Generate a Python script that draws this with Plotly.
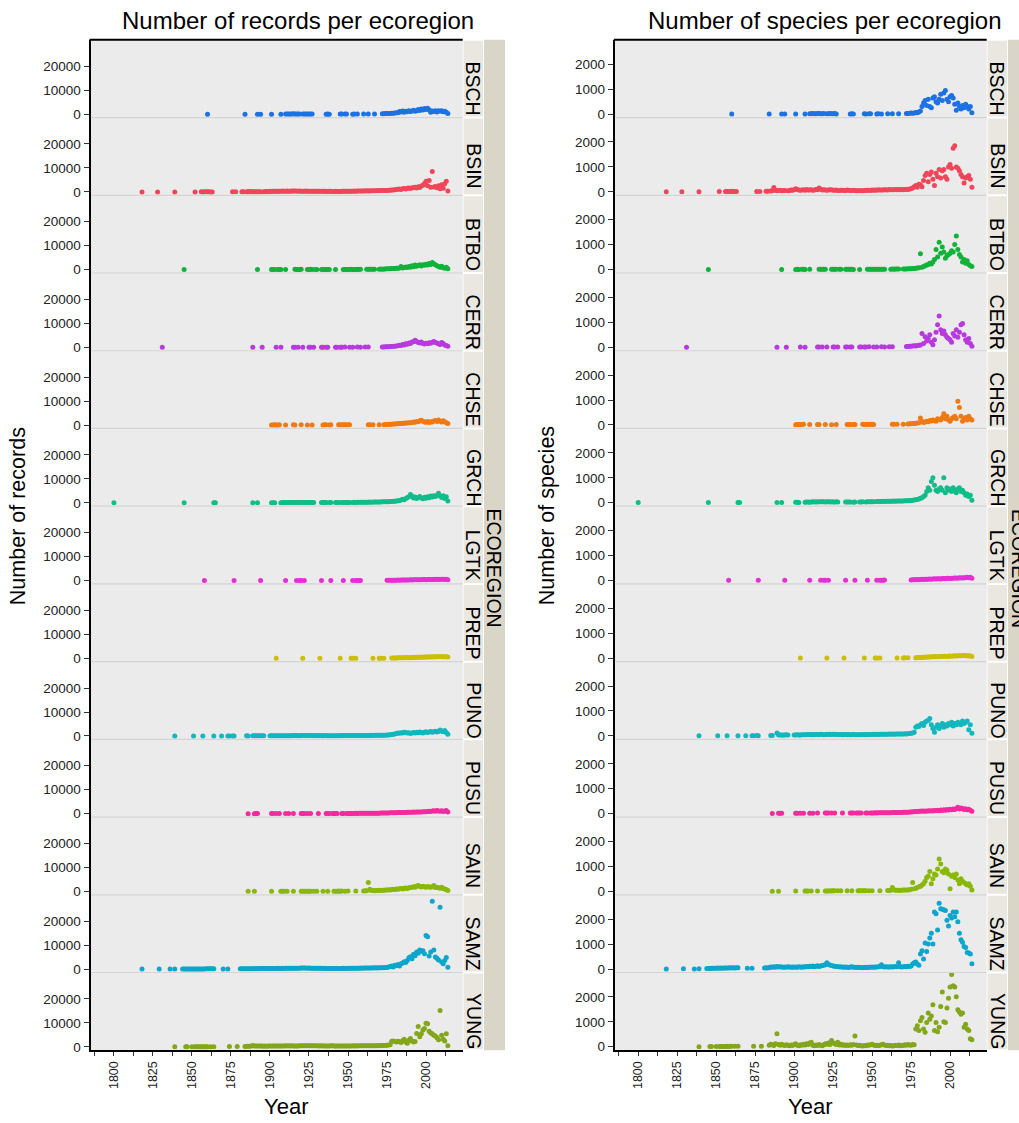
import plotly.graph_objects as go

# ---------------- data ----------------
REGIONS = ["BSCH", "BSIN", "BTBO", "CERR", "CHSE", "GRCH", "LGTK",
           "PREP", "PUNO", "PUSU", "SAIN", "SAMZ", "YUNG"]
COLORS = ["#1C72E4", "#F0465A", "#12B23A", "#B83ADE", "#EE7A14", "#10BD8A",
          "#E52FD3", "#CCBE00", "#10B8BE", "#F52A9E", "#89B808", "#0CA6CC", "#83A61A"]

X_TICKS = [1800, 1825, 1850, 1875, 1900, 1925, 1950, 1975, 2000]
REC_TICKS = [0, 10000, 20000]
SPE_TICKS = [0, 1000, 2000]

bsch_years = [1860, 1884, 1892, 1894, 1901, 1907,
              1910, 1911, 1912, 1913, 1914, 1915, 1916, 1917, 1918, 1919,
              1921, 1922, 1923, 1924, 1925, 1926, 1927,
              1936, 1937, 1938, 1945, 1946, 1948, 1949, 1953, 1954, 1956, 1960, 1963, 1967,
              1972, 1973, 1974, 1975, 1976, 1977, 1978, 1979, 1980, 1981,
              1982, 1983, 1984, 1985, 1986, 1987, 1988, 1989, 1990, 1991,
              1992, 1993, 1994, 1995, 1996, 1997, 1998, 1999, 2000, 2001,
              2002, 2003, 2004, 2005, 2006, 2007, 2008, 2009, 2010, 2011,
              2012, 2013, 2014]
bsch_records = [20, 15, 30, 25, 40, 35,
                60, 80, 120, 90, 70, 150, 110, 60, 90, 130,
                80, 100, 140, 70, 60, 90, 50,
                40, 70, 30, 60, 45, 80, 55, 40, 65, 50, 70, 90, 60,
                150, 200, 250, 300, 280, 350, 420, 380, 500, 600,
                650, 1100, 900, 1300, 800, 1200, 1000, 1500, 1100, 1300,
                1700, 1200, 1500, 2000, 1600, 2200, 1800, 2400, 2000, 2500,
                1900, 800, 1300, 1100, 1500, 900, 1400, 1200, 1500, 1000,
                1200, 800, 300]
bsch_species = [3, 2, 4, 5, 8, 6,
                12, 15, 20, 18, 14, 25, 22, 10, 16, 28,
                12, 18, 24, 14, 10, 20, 8,
                6, 12, 5, 10, 8, 14, 9, 7, 12, 8, 12, 15, 10,
                20, 25, 30, 40, 35, 45, 60, 50, 80, 120,
                300, 450, 550, 350, 600, 300, 250, 650, 700, 500,
                450, 600, 800, 550, 850, 950, 600, 500, 700, 750,
                650, 400, 150, 450, 300, 200, 350, 250, 400, 300,
                200, 300, 50]

bsin_years = [1818, 1828, 1839, 1852, 1856, 1857, 1858, 1859, 1860, 1861, 1862, 1863,
              1876, 1878, 1882, 1883, 1885, 1886, 1887, 1888, 1889, 1890, 1891, 1892, 1893, 1894,
              1896, 1897, 1898, 1899, 1900, 1901, 1902, 1903, 1904, 1905,
              1906, 1907, 1908, 1909, 1910, 1911, 1912, 1913, 1914, 1915,
              1916, 1917, 1918, 1919, 1920, 1921, 1922, 1923, 1924, 1925,
              1926, 1927, 1928, 1929, 1930, 1931, 1932, 1933, 1934, 1935,
              1936, 1937, 1938, 1939, 1940, 1941, 1942, 1943, 1944, 1945,
              1946, 1947, 1948, 1949, 1950, 1951, 1952, 1953, 1954, 1955,
              1956, 1957, 1958, 1959, 1960, 1961, 1962, 1963, 1964, 1965,
              1966, 1967, 1968, 1969, 1970, 1971, 1972, 1973, 1974, 1975,
              1976, 1977, 1978, 1979, 1980, 1981, 1982, 1983, 1984, 1985,
              1986, 1987, 1988, 1989, 1990, 1991, 1992, 1993, 1994, 1995,
              1996, 1997, 1998, 1999, 2000, 2001, 2002, 2003, 2004, 2005,
              2006, 2007, 2008, 2009, 2010, 2011, 2012, 2013, 2014]
bsin_records = [10, 15, 12, 20, 30, 25, 40, 35, 50, 30, 20, 25,
                40, 35, 60, 80, 70, 90, 150, 110, 80, 100, 120, 90, 130, 100,
                120, 150, 200, 180, 250, 220, 300, 260, 240, 280,
                310, 270, 350, 300, 320, 380, 290, 340, 400, 360,
                420, 380, 300, 350, 330, 280, 310, 360, 340, 300,
                290, 320, 270, 250, 300, 280, 260, 240, 310, 270,
                250, 230, 280, 260, 220, 200, 240, 210, 190, 230,
                250, 280, 300, 270, 320, 290, 340, 310, 360, 330,
                380, 350, 400, 420, 390, 450, 430, 470, 440, 500,
                480, 520, 500, 550, 530, 580, 560, 600, 620,
                650, 700, 750, 800, 850, 900, 1000, 1100, 1200, 1050,
                1300, 1400, 1250, 1500, 1600, 1450, 1800, 1700, 2000, 1600,
                2200, 1900, 2500, 2800, 3500, 4500, 2600, 4800, 2000, 8500,
                2100, 2300, 1800, 2600, 1300, 3000, 1500, 3400, 4500, 400]
bsin_species = [5, 6, 5, 8, 10, 12, 15, 14, 18, 12, 10, 11,
                15, 14, 20, 25, 30, 40, 170, 60, 40, 50, 60, 45, 55, 50,
                40, 50, 70, 60, 80, 120, 90, 70, 60, 75,
                80, 65, 90, 70, 75, 85, 60, 70, 95, 80,
                150, 100, 70, 80, 75, 60, 70, 85, 80, 65,
                60, 70, 55, 50, 65, 60, 55, 50, 70, 60,
                55, 50, 60, 55, 45, 40, 50, 45, 40, 50,
                55, 60, 65, 55, 70, 60, 75, 65, 80, 70,
                75, 70, 80, 85, 75, 90, 80, 85, 80, 95,
                85, 90, 80, 95, 85, 90, 100, 95, 110,
                120, 150, 200, 250, 180, 300, 280, 200, 450, 650,
                750, 400, 700, 800, 500, 250, 750, 600, 900, 550,
                850, 900, 600, 500, 1000, 1100, 950, 1750, 1850, 1000,
                950, 850, 700, 600, 350, 550, 600, 650, 500, 180]

btbo_years = [1845, 1892, 1901, 1902, 1903, 1905, 1906, 1907, 1910,
              1916, 1917, 1918, 1919, 1920, 1924, 1925, 1926, 1927, 1929, 1930,
              1933, 1934, 1935, 1936, 1937, 1938, 1942,
              1947, 1948, 1949, 1950, 1951, 1952, 1953, 1954, 1955, 1956, 1957, 1958,
              1962, 1963, 1964, 1965, 1966, 1967,
              1970, 1971, 1972, 1973, 1974, 1975, 1976, 1977, 1978, 1979,
              1980, 1981, 1982, 1983, 1984, 1985, 1986, 1987, 1988, 1989,
              1990, 1991, 1992, 1993, 1994, 1995, 1996, 1997, 1998, 1999,
              2000, 2001, 2002, 2003, 2004, 2005, 2006, 2007, 2008, 2009,
              2010, 2011, 2012, 2013, 2014]
btbo_records = [30, 40, 60, 80, 50, 70, 90, 60, 100, 150,
                120, 90, 110, 130, 80, 100, 140, 120, 90, 110,
                70, 90, 120, 100, 80, 60, 50, 70, 90, 110,
                80, 100, 130, 90, 120, 110, 140, 100, 130, 150,
                180, 160, 200, 170, 190,
                200, 250, 220, 300, 280, 350, 400, 380, 450, 500,
                480, 600, 550, 700, 1300, 650, 900, 1100, 850, 1300,
                1000, 1600, 1200, 1900, 1400, 1700, 2100, 1500, 2000, 1800,
                2300, 1900, 2600, 2200, 3000, 2500, 2000, 1600, 1300, 1000,
                1400, 800, 600, 1000, 400]
btbo_species = [3, 4, 6, 8, 5, 7, 9, 6, 10, 15,
                12, 9, 11, 13, 8, 10, 14, 12, 9, 11,
                7, 9, 12, 10, 8, 6, 5, 7, 9, 11,
                8, 10, 13, 9, 12, 11, 14, 10, 13, 15,
                18, 16, 20, 17, 19,
                20, 25, 22, 30, 28, 35, 40, 45, 50, 60,
                70, 630, 90, 120, 150, 180, 200, 250, 220, 300,
                400, 800, 500, 1100, 650, 900, 700, 450, 550, 600,
                650, 750, 700, 1000, 1350, 800, 600, 500, 300, 400,
                250, 350, 200, 150, 120]

cerr_years = [1831, 1889, 1895, 1904, 1907, 1915, 1916, 1918, 1921, 1925,
              1926, 1928, 1933, 1934, 1936, 1937, 1942, 1943, 1945, 1946,
              1948, 1951, 1953, 1956, 1958, 1961, 1963,
              1972, 1973, 1974, 1975, 1976, 1977, 1978, 1979, 1980, 1981,
              1982, 1983, 1984, 1985, 1986, 1987, 1988, 1989, 1990, 1991,
              1992, 1993, 1994, 1995, 1996, 1997, 1998, 1999, 2000, 2001,
              2002, 2003, 2004, 2005, 2006, 2007, 2008, 2009, 2010, 2011,
              2012, 2013, 2014]
cerr_records = [20, 30, 25, 40, 35, 60, 50, 45, 70, 55,
                65, 80, 60, 75, 90, 70, 85, 100, 80, 95,
                110, 90, 100, 120, 100, 130, 110,
                150, 200, 250, 220, 300, 350, 400, 450, 500, 600,
                700, 900, 800, 1200, 1000, 1500, 1300, 1800, 1600, 2200,
                2400, 3000, 2500, 2000, 1800, 2200, 1600, 1400, 1700, 1500,
                1900, 1700, 2100, 2500, 2000, 1800, 1500, 1200, 2000, 1600,
                1000, 800, 500]
cerr_species = [3, 5, 4, 6, 5, 8, 7, 6, 10, 8,
                9, 12, 9, 11, 14, 10, 12, 15, 12, 14,
                16, 13, 15, 18, 15, 20, 17,
                30, 35, 40, 45, 50, 60, 55, 70, 80, 90,
                550, 150, 420, 250, 350, 500, 200, 100, 300, 600,
                900, 1250, 700, 550, 650, 500, 400, 350, 300, 200,
                550, 450, 700, 400, 600, 900, 950, 500, 300, 200,
                350, 150, 40]

chse_years = [1901, 1902, 1903, 1904, 1905, 1906, 1910, 1915, 1916, 1920,
              1924, 1927, 1934, 1935, 1936, 1938, 1939, 1944, 1945, 1946,
              1947, 1948, 1949, 1950, 1951, 1963, 1964, 1966, 1970,
              1973, 1974, 1975, 1976, 1977, 1978, 1979, 1980, 1981, 1982,
              1983, 1984, 1985, 1986, 1987, 1988, 1989, 1990, 1991, 1992,
              1993, 1994, 1995, 1996, 1997, 1998, 1999, 2000, 2001, 2002,
              2003, 2004, 2005, 2006, 2007, 2008, 2009, 2010, 2011, 2012,
              2013, 2014]
chse_records = [60, 80, 100, 70, 90, 120, 80, 100, 90, 110,
                70, 90, 80, 100, 120, 90, 110, 130, 100, 120,
                140, 110, 130, 150, 120, 140, 160, 130, 150,
                200, 250, 300, 280, 350, 400, 450, 500, 550, 600,
                700, 650, 800, 750, 900, 850, 1000, 950, 1100, 1300,
                1200, 1500, 1400, 1800, 2000, 1600, 1300, 1200, 1500, 1100,
                1400, 1300, 1700, 1900, 1500, 2100, 1600, 1300, 1800, 1400,
                1000, 700]
chse_species = [10, 15, 20, 12, 18, 25, 15, 20, 18, 22,
                14, 18, 16, 20, 24, 18, 22, 26, 20, 24,
                28, 22, 26, 30, 24, 28, 32, 26, 30,
                40, 45, 50, 60, 55, 70, 80, 90, 280, 150,
                100, 120, 150, 130, 180, 160, 200, 170, 150, 250,
                220, 200, 300, 450, 250, 350, 200, 150, 250, 300,
                350, 250, 950, 700, 350, 150, 250, 300, 200, 350,
                250, 200]

grch_years = [1800, 1845, 1864, 1865, 1889, 1892, 1901, 1902, 1903,
              1907, 1908, 1909, 1910, 1911, 1912, 1913, 1914, 1915, 1916, 1917,
              1918, 1919, 1920, 1921, 1922, 1923, 1924, 1925, 1926, 1927, 1928,
              1933, 1934, 1935, 1936, 1938, 1939, 1942, 1943, 1944, 1946,
              1947, 1948, 1949, 1950, 1951,
              1953, 1954, 1955, 1956, 1957, 1958, 1959, 1960, 1961, 1962,
              1963, 1964, 1965, 1966, 1967, 1968, 1969, 1970, 1971, 1972,
              1973, 1974, 1975, 1976, 1977, 1978, 1979, 1980, 1981, 1982,
              1983, 1984, 1985, 1986, 1987, 1988, 1989, 1990, 1991, 1992,
              1993, 1994, 1995, 1996, 1997, 1998, 1999, 2000, 2001, 2002,
              2003, 2004, 2005, 2006, 2007, 2008, 2009, 2010, 2011, 2012,
              2013, 2014]
grch_records = [20, 30, 40, 35, 50, 45, 60, 70, 55,
                80, 100, 120, 90, 110, 140, 130, 150, 120, 160, 140,
                170, 150, 130, 160, 140, 120, 150, 130, 110, 140, 120,
                100, 120, 110, 130, 90, 110, 100, 120, 140, 130,
                150, 140, 160, 150, 170,
                180, 200, 190, 210, 230, 220, 250, 240, 260, 280,
                270, 300, 290, 320, 310, 340, 330, 360, 380, 400,
                420, 450,
                480, 500, 550, 600, 650, 700, 800, 900, 1000, 1200,
                1500, 1300, 1800, 2200, 2500, 3500, 2800, 2000, 2400, 1800,
                2200, 2600, 2000, 1700, 2300, 1900, 2500, 2100, 2800, 2400,
                3000, 2600, 3200, 4000, 2800, 2200, 3000, 1800, 2500, 800]
grch_species = [5, 6, 10, 8, 12, 10, 14, 16, 12,
                20, 25, 30, 22, 28, 35, 32, 38, 30, 40, 35,
                42, 38, 32, 40, 35, 30, 38, 32, 28, 35, 30,
                25, 30, 28, 32, 22, 28, 25, 30, 35, 32,
                38, 35, 40, 38, 42,
                45, 50, 48, 52, 55, 50, 58, 55, 60, 62,
                58, 65, 60, 68, 65, 70, 68, 72, 75, 80,
                78, 85,
                90, 100, 110, 120, 130, 150, 180, 200, 250, 300,
                450, 600, 500, 850, 1000, 700, 500, 450, 550, 600,
                500, 1000, 400, 600, 500, 550, 450, 600, 500, 400,
                550, 600, 450, 500, 400, 300, 350, 250, 300, 100]

lgtk_years = [1858, 1877, 1894, 1910, 1917, 1919, 1920, 1922, 1933, 1939,
              1947, 1953, 1955, 1956, 1957, 1958,
              1975, 1976, 1977, 1978, 1979, 1980, 1981, 1982, 1983, 1984,
              1985, 1986, 1987, 1988, 1989, 1990, 1991, 1992, 1993, 1994,
              1995, 1996, 1997, 1998, 1999, 2000, 2001, 2002, 2003, 2004,
              2005, 2006, 2007, 2008, 2009, 2010, 2011, 2012, 2013, 2014]
lgtk_records = [20, 15, 25, 30, 20, 35, 30, 25, 40, 30,
                35, 45, 40, 50, 45, 55,
                80, 110, 95, 130, 150, 120, 170, 190, 160, 210,
                240, 200, 260, 230, 280, 300, 260, 320, 340, 290,
                360, 380, 330, 400, 420, 370, 440, 400, 460, 480,
                420, 500, 470, 520, 450, 540, 500, 480, 520, 300]
lgtk_species = [5, 4, 6, 8, 5, 9, 7, 6, 10, 8,
                9, 11, 10, 12, 11, 13,
                20, 28, 24, 32, 36, 30, 40, 44, 38, 48,
                52, 46, 56, 50, 60, 64, 58, 68, 72, 62,
                76, 80, 70, 84, 88, 78, 92, 86, 96, 100,
                90, 105, 98, 110, 95, 120, 130, 110, 125, 90]

prep_years = [1904, 1921, 1932, 1945, 1952, 1953, 1955, 1966, 1970, 1971, 1973,
              1978, 1979, 1980, 1981, 1982, 1983, 1984, 1985, 1986, 1987,
              1988, 1989, 1990, 1991, 1992, 1993, 1994, 1995, 1996, 1997,
              1998, 1999, 2000, 2001, 2002, 2003, 2004, 2005, 2006, 2007,
              2008, 2009, 2010, 2011, 2012, 2013, 2014]
prep_records = [15, 20, 25, 30, 35, 30, 40, 45, 50, 55, 60,
                100, 130, 120, 160, 190, 170, 220, 250, 230, 280,
                300, 270, 330, 360, 340, 390, 420, 380, 450, 480,
                440, 510, 540, 500, 570, 600, 560, 630, 650, 610,
                680, 700, 660, 640, 590, 620, 480]
prep_species = [3, 4, 5, 6, 7, 6, 8, 9, 10, 11, 12,
                20, 25, 22, 30, 35, 32, 40, 45, 42, 50,
                55, 52, 58, 62, 60, 65, 70, 66, 72, 76,
                70, 80, 85, 78, 88, 92, 86, 95, 100, 94,
                105, 110, 100, 95, 88, 92, 70]

puno_years = [1839, 1851, 1857, 1864, 1869, 1873, 1874, 1876, 1877, 1885,
              1886, 1889, 1890, 1891, 1892, 1893, 1894, 1895, 1896,
              1900, 1901, 1902, 1903, 1904, 1905, 1906, 1907, 1908, 1909,
              1910, 1911, 1912, 1913, 1914, 1915, 1916, 1917, 1918, 1919,
              1920, 1921, 1922, 1923, 1924, 1925, 1926, 1927, 1928, 1929,
              1930, 1931, 1932, 1933, 1934, 1935, 1936, 1937, 1938, 1939,
              1940, 1941, 1942, 1943, 1944, 1945, 1946, 1947, 1948, 1949,
              1950, 1951, 1952, 1953, 1954, 1955, 1956, 1957, 1958, 1959,
              1960, 1961, 1962, 1963, 1964, 1965, 1966, 1967, 1968, 1969,
              1970, 1971, 1972, 1973, 1974,
              1975, 1976, 1977, 1978, 1979, 1980, 1981, 1982, 1983, 1984,
              1985, 1986, 1987, 1988, 1989, 1990, 1991, 1992, 1993, 1994,
              1995, 1996, 1997, 1998, 1999, 2000, 2001, 2002, 2003, 2004,
              2005, 2006, 2007, 2008, 2009, 2010, 2011, 2012, 2013, 2014]
puno_records = [20, 25, 30, 35, 30, 40, 35, 45, 40, 50,
                45, 80, 60, 70, 55, 65, 60, 70, 65,
                80, 90, 100, 85, 95, 110, 105, 120, 115, 130,
                125, 140, 135, 150, 145, 160, 155, 170, 150, 140,
                160, 175, 165, 180, 170, 185, 175, 160, 150, 165,
                155, 145, 160, 150, 140, 155, 145, 135, 150, 140,
                130, 145, 135, 150, 140, 160, 150, 170, 160, 180,
                175, 190, 185, 200, 195, 210, 205, 220, 215, 230,
                225, 240, 235, 250, 245, 260, 255, 270, 265, 280,
                290, 300, 320, 340, 360,
                400, 450, 500, 600, 700, 800, 1000, 1200, 1100, 1400,
                1300, 1600, 1500, 1200, 1400, 1000, 1300, 1500, 1200, 1600,
                1400, 1700, 1500, 1300, 1600, 1800, 1500, 1700, 1900, 1600,
                1800, 2000, 1700, 1900, 2500, 2100, 1800, 2300, 1500, 700]
puno_species = [5, 6, 7, 8, 7, 9, 8, 10, 9, 12,
                10, 120, 30, 40, 25, 35, 30, 40, 35,
                30, 35, 40, 32, 38, 45, 42, 48, 44, 50,
                46, 52, 48, 55, 50, 58, 54, 60, 52, 48,
                55, 60, 56, 62, 58, 64, 60, 55, 50, 56,
                52, 48, 54, 50, 46, 52, 48, 44, 50, 46,
                42, 48, 44, 50, 46, 52, 48, 55, 50, 58,
                55, 60, 56, 62, 58, 64, 60, 66, 62, 68,
                64, 70, 66, 72, 68, 74, 70, 76, 72, 78,
                75, 80, 78, 85, 90,
                100, 120, 150, 350, 400, 380, 450, 500, 420, 550,
                600, 620, 700, 450, 300, 150, 350, 450, 300, 400,
                500, 350, 450, 400, 500, 450, 550, 400, 500, 450,
                550, 500, 450, 600, 500, 550, 600, 250, 450, 100]

pusu_years = [1886, 1890, 1891, 1892, 1901, 1902, 1904, 1906, 1910, 1912,
              1915, 1920, 1921, 1922, 1924, 1926, 1931, 1936, 1937, 1938,
              1940, 1941, 1942, 1943, 1946, 1947, 1949, 1950, 1951, 1952,
              1953,
              1954, 1955, 1956, 1957, 1958, 1959, 1960, 1961, 1962, 1963,
              1964, 1965, 1966, 1967, 1968, 1969, 1970, 1971, 1972, 1973,
              1974,
              1975, 1976, 1977, 1978, 1979, 1980, 1981, 1982, 1983, 1984,
              1985, 1986, 1987, 1988, 1989, 1990, 1991, 1992, 1993, 1994,
              1995, 1996, 1997, 1998, 1999, 2000, 2001, 2002, 2003, 2004,
              2005, 2006, 2007, 2008, 2009, 2010, 2011, 2012, 2013, 2014]
pusu_records = [30, 40, 50, 45, 60, 55, 70, 65, 80, 75,
                90, 85, 100, 95, 110, 100, 90, 105, 95, 110,
                100, 115, 105, 120, 110, 125, 115, 130, 120, 135,
                125,
                140, 150, 145, 160, 155, 170, 165, 180, 175, 190,
                185, 200, 195, 210, 220, 230, 240, 250, 260, 280,
                300,
                320, 340, 360, 380, 400, 420, 440, 460, 500, 480,
                520, 560, 540, 600, 580, 640, 620, 680, 660, 720,
                700, 760, 740, 800, 780, 850, 900, 1000, 950, 1100,
                1200, 1050, 1300, 1150, 1000, 1200, 900, 1100, 1300, 700]
pusu_species = [8, 10, 12, 11, 14, 13, 16, 15, 18, 17,
                20, 19, 22, 21, 24, 22, 20, 23, 21, 24,
                22, 25, 23, 26, 24, 27, 25, 28, 26, 29,
                27,
                30, 32, 31, 34, 33, 36, 35, 38, 37, 40,
                39, 42, 41, 44, 46, 48, 50, 52, 54, 56,
                60,
                65, 70, 75, 80, 85, 90, 95, 100, 90, 105,
                95, 110, 100, 115, 105, 120, 110, 130, 115, 140,
                125, 150, 130, 160, 140, 170, 150, 180, 160, 200,
                250, 180, 220, 200, 160, 190, 150, 170, 130, 90]

sain_years = [1886, 1890, 1901, 1907, 1908, 1909, 1911, 1915, 1920, 1921,
              1922, 1923, 1924, 1925, 1926, 1928, 1930, 1934, 1937, 1941,
              1942, 1943, 1944, 1945, 1946, 1948, 1950, 1955,
              1960, 1961, 1962, 1963, 1964, 1965, 1966, 1967, 1968, 1969,
              1970, 1971, 1972, 1973, 1974,
              1975, 1976, 1977, 1978, 1979, 1980, 1981, 1982, 1983, 1984,
              1985, 1986, 1987, 1988, 1989, 1990, 1991, 1992, 1993, 1994,
              1995, 1996, 1997, 1998, 1999, 2000, 2001, 2002, 2003, 2004,
              2005, 2006, 2007, 2008, 2009, 2010, 2011, 2012, 2013, 2014]
sain_records = [40, 50, 60, 70, 65, 80, 75, 90, 85, 100,
                95, 110, 105, 120, 115, 130, 120, 110, 125, 115,
                130, 120, 135, 125, 140, 130, 145, 150,
                200, 250, 300, 3700, 900, 400, 350, 300, 400, 350,
                450, 400, 500, 450, 550,
                600, 700, 650, 800, 900, 850, 1000, 950, 1100, 1200,
                1050, 1300, 1400, 1250, 1500, 1600, 1800, 2000, 1700, 2300,
                2500, 2100, 1900, 2200, 2000, 1800, 2100, 1900, 1700, 2000,
                2500, 1600, 1800, 1500, 1300, 1700, 1200, 1000, 800, 400]
sain_species = [5, 6, 8, 10, 9, 12, 11, 14, 13, 16,
                15, 18, 17, 20, 19, 22, 20, 18, 21, 19,
                22, 20, 23, 21, 24, 22, 25, 26,
                30, 35, 40, 150, 60, 45, 40, 38, 45, 42,
                50, 48, 55, 52, 60,
                80, 350, 100, 120, 150, 180, 200, 250, 300, 400,
                550, 600, 800, 300, 500, 700, 650, 900, 1300, 1100,
                800, 750, 900, 850, 700, 100, 600, 650, 550, 700,
                450, 300, 500, 400, 350, 300, 250, 300, 200, 50]

samz_years = [1818, 1829, 1836, 1839,
              1844, 1845, 1846, 1847, 1848, 1849, 1850, 1851, 1852, 1853,
              1854, 1855, 1856, 1857, 1858, 1859, 1860, 1861, 1862, 1863, 1864,
              1870, 1873,
              1881, 1882, 1883, 1884, 1885, 1886, 1887, 1888, 1889, 1890,
              1891, 1892, 1893, 1894, 1895, 1896, 1897, 1898, 1899, 1900,
              1901, 1902, 1903, 1904, 1905, 1906, 1907, 1908, 1909, 1910,
              1911, 1912, 1913, 1914, 1915, 1916, 1917, 1918, 1919, 1920,
              1921, 1922, 1923, 1924, 1925, 1926, 1927, 1928, 1929, 1930,
              1931, 1932, 1933, 1934, 1935, 1936, 1937, 1938, 1939, 1940,
              1941, 1942, 1943, 1944, 1945, 1946, 1947, 1948, 1949, 1950,
              1951, 1952, 1953, 1954, 1955, 1956, 1957, 1958, 1959, 1960,
              1961, 1962, 1963, 1964, 1965, 1966, 1967, 1968, 1969, 1970,
              1971, 1972, 1973, 1974,
              1975, 1976, 1977, 1978, 1979, 1980, 1981, 1982, 1983, 1984,
              1985, 1986, 1987, 1988, 1989, 1990, 1991, 1992, 1993, 1994,
              1995, 1996, 1997, 1998, 1999, 2000, 2001, 2002, 2003, 2004,
              2005, 2006, 2007, 2008, 2009, 2010, 2011, 2012, 2013, 2014]
samz_records = [20, 30, 25, 40,
                50, 60, 55, 70, 65, 80, 75, 90, 85, 100,
                95, 110, 105, 120, 115, 130, 125, 140, 135, 150, 145,
                100, 120,
                150, 175, 160, 190, 170, 210, 185, 200, 230, 210,
                240, 220, 260, 235, 250, 280, 245, 270, 300, 260,
                290, 270, 310, 285, 330, 300, 320, 350, 310, 340,
                360, 330, 370, 400, 350, 380, 420, 390, 410, 440,
                480, 520, 460, 430, 450, 410, 390, 420, 380, 360,
                340, 370, 330, 310, 350, 300, 280, 320, 290, 260,
                280, 250, 300, 270, 310, 290, 330, 300, 350, 320,
                360, 330, 380, 350, 400, 420, 380, 450, 410, 470,
                440, 500, 460, 520, 480, 550, 510, 570, 530, 600,
                560, 620, 590, 650,
                700, 900, 1100, 1300, 900, 1600, 1400, 1900, 1300, 2300,
                2600, 3100, 2800, 3600, 4800, 5200, 4300, 6200, 5600, 7200,
                6600, 8000, 7500, 7700, 6400, 14000, 13500, 5500, 7200, 28300,
                8000, 5100, 4600, 3800, 25800, 3000, 2300, 3600, 4900, 800]
samz_species = [5, 8, 6, 10,
                20, 25, 22, 30, 28, 35, 32, 38, 34, 40,
                36, 42, 38, 45, 40, 48, 44, 50, 46, 52, 48,
                30, 35,
                40, 50, 45, 60, 80, 70, 90, 75, 100, 85,
                95, 80, 70, 85, 75, 90, 80, 70, 85, 75,
                80, 70, 90, 85, 75, 95, 80, 100, 90, 110,
                100, 120, 95, 110, 130, 100, 120, 140, 150, 170,
                250, 180, 160, 140, 120, 110, 100, 90, 95, 85,
                80, 75, 85, 70, 65, 80, 90, 75, 70, 65,
                70, 60, 65, 55, 60, 70, 65, 75, 70, 80,
                75, 85, 80, 90, 100, 170, 95, 85, 90, 80,
                85, 90, 80, 95, 100, 90, 250, 95, 85, 90,
                100, 95, 110, 105,
                120, 200, 250, 280, 200, 150, 600, 730, 400, 1050,
                700, 1000, 1250, 1440, 1000, 2290, 2220, 1570, 2640, 2420,
                2400, 2380, 2350, 1960, 1730, 2150, 2050, 2290, 2100, 2290,
                1900, 1440, 1180, 1080, 900, 860, 660, 640, 600, 210]

yung_years = [1839, 1846, 1847, 1850, 1852, 1853, 1854, 1855, 1856, 1857,
              1858, 1859, 1860, 1862, 1864, 1874, 1879,
              1884, 1885, 1886, 1887, 1888, 1889, 1890, 1891, 1892, 1893,
              1894, 1895, 1896, 1897, 1898, 1899, 1900, 1901, 1902, 1903,
              1904, 1905, 1906, 1907, 1908, 1909, 1910, 1911, 1912, 1913,
              1914, 1915, 1916, 1917, 1918, 1919, 1920, 1921, 1922, 1923,
              1924, 1925, 1926, 1927, 1928, 1929, 1930, 1931, 1932, 1933,
              1934, 1935, 1936, 1937, 1938, 1939, 1940, 1941, 1942, 1943,
              1944, 1945, 1946, 1947, 1948, 1949, 1950, 1951, 1952, 1953,
              1954, 1955, 1956, 1957, 1958, 1959, 1960, 1961, 1962, 1963,
              1964, 1965, 1966, 1967, 1968, 1969, 1970, 1971, 1972, 1973,
              1974,
              1975, 1976, 1977, 1978, 1979, 1980, 1981, 1982, 1983, 1984,
              1985, 1986, 1987, 1988, 1989, 1990, 1991, 1992, 1993, 1994,
              1995, 1996, 1997, 1998, 1999, 2000, 2001, 2002, 2003, 2004,
              2005, 2006, 2007, 2008, 2009, 2010, 2011, 2012, 2013, 2014]
yung_records = [30, 40, 35, 50, 45, 60, 55, 70, 65, 80,
                75, 90, 85, 100, 95, 110, 120,
                200, 250, 300, 280, 350, 600, 400, 380, 420, 350,
                330, 360, 310, 340, 300, 320, 350, 330, 370, 340,
                380, 350, 400, 370, 420, 390, 430, 400, 450, 410,
                440, 400, 420, 380, 410, 450, 430, 470, 500, 460,
                480, 520, 490, 450, 470, 430, 460, 420, 440, 410,
                430, 400, 420, 390, 410, 500, 450, 420, 400, 380,
                360, 390, 370, 400, 380, 410, 390, 420, 400, 430,
                410, 440, 420, 450, 430, 460, 440, 470, 450, 480,
                460, 500, 480, 520, 500, 540, 520, 560, 540, 580,
                600,
                700, 800, 900, 2300, 2500, 2200, 2000, 2400, 2100, 1800,
                2600, 3200, 2000, 1500, 2800, 3500, 2500, 2000, 2200, 5600,
                8500, 4200, 5500, 7000, 7700, 9900, 9600, 6500, 5800, 5500,
                4800, 4500, 3800, 3000, 15200, 4800, 3200, 2500, 5500, 500]
yung_species = [5, 8, 6, 10, 8, 12, 10, 14, 12, 16,
                14, 18, 16, 20, 18, 22, 25,
                60, 100, 80, 50, 120, 520, 90, 60, 100, 70,
                50, 80, 60, 40, 70, 50, 90, 120, 60, 40,
                80, 60, 100, 70, 120, 90, 150, 180, 60, 40,
                70, 50, 90, 60, 40, 80, 120, 100, 150, 90,
                250, 160, 120, 90, 180, 70, 100, 60, 80, 50,
                70, 50, 80, 60, 90, 430, 70, 50, 60, 40,
                30, 50, 40, 70, 60, 80, 100, 70, 50, 60,
                40, 60, 80, 100, 70, 50, 60, 40, 50, 30,
                40, 60, 50, 70, 40, 60, 50, 80, 60, 90,
                70,
                60, 90, 80, 715, 840, 650, 1040, 1170, 715, 585,
                975, 1360, 1100, 1230, 1690, 650, 975, 600, 780, 1620,
                2200, 1000, 975, 1560, 1950, 2400, 2900, 2450, 2400, 2010,
                1490, 1400, 1300, 1350, 780, 900, 715, 650, 325, 280]

YEARS = [bsch_years, bsin_years, btbo_years, cerr_years, chse_years, grch_years,
         lgtk_years, prep_years, puno_years, pusu_years, sain_years, samz_years, yung_years]
RECORDS = [bsch_records, bsin_records, btbo_records, cerr_records, chse_records,
           grch_records, lgtk_records, prep_records, puno_records, pusu_records,
           sain_records, samz_records, yung_records]
SPECIES = [bsch_species, bsin_species, btbo_species, cerr_species, chse_species,
           grch_species, lgtk_species, prep_species, puno_species, pusu_species,
           sain_species, samz_species, yung_species]

for name, yy, rr, ss in zip(REGIONS, YEARS, RECORDS, SPECIES):
    if not (len(yy) == len(rr) == len(ss)):
        raise ValueError(f"{name}: {len(yy)} {len(rr)} {len(ss)}")

# ---------------- layout ----------------
W, H = 1019, 1123
TOP, ROW = 40, 78
NROW = len(REGIONS)
FONT = "Liberation Sans, Arial, sans-serif"
STRIP_SHIFT = 10


def px(x):
    return x / W


def py(y):
    return 1 - y / H


PANELS = [
    dict(values=RECORDS, ticks=REC_TICKS, yr=[-1400, 31000],
         x0=90.5, x1=462.7, s0=463.5, s1=483, o0=484, o1=505,
         title="Number of records per ecoregion", tx=298,
         ytitle="Number of records", ytx=18, xtx=286),
    dict(values=SPECIES, ticks=SPE_TICKS, yr=[-140, 2980],
         x0=614.8, x1=986.7, s0=987.5, s1=1007, o0=1008, o1=1030,
         title="Number of species per ecoregion", tx=825,
         ytitle="Number of species", ytx=547, xtx=810),
]

fig = go.Figure()
layout = dict(width=W, height=H, margin=dict(l=0, r=0, t=0, b=0),
              paper_bgcolor="white", plot_bgcolor="#EBEBEB",
              showlegend=False, font=dict(family=FONT, color="black"))
shapes, annotations = [], []

for p, pan in enumerate(PANELS):
    for i, region in enumerate(REGIONS):
        n = p * NROW + i + 1
        xs = "" if n == 1 else str(n)
        T = TOP + ROW * i
        B = T + ROW
        last = (i == NROW - 1)
        fig.add_trace(go.Scatter(
            x=YEARS[i], y=pan["values"][i], mode="markers",
            marker=dict(color=COLORS[i], size=5, line=dict(width=0)),
            xaxis="x" + xs, yaxis="y" + xs, hoverinfo="skip"))
        xa = dict(domain=[px(pan["x0"]), px(pan["x1"])], range=[1785, 2023.5],
                  anchor="y" + xs, showgrid=False, zeroline=False,
                  showticklabels=last, tickvals=X_TICKS,
                  ticktext=[str(v) for v in X_TICKS], tickangle=-90,
                  tickfont=dict(size=12.5, color="#222222", family=FONT))
        if last:
            xa.update(showline=True, linecolor="black", linewidth=2,
                      ticks="outside", ticklen=4, tickwidth=1, tickcolor="#333333",
                      minor=dict(dtick=12.5, tick0=1800, ticks="outside",
                                 ticklen=4, tickwidth=1, tickcolor="#333333",
                                 showgrid=False))
        else:
            xa.update(showline=False, ticks="")
        ya = dict(domain=[py(B), py(T)], range=pan["yr"], anchor="x" + xs,
                  showgrid=False, zeroline=False, tickvals=pan["ticks"],
                  ticktext=[str(v) for v in pan["ticks"]],
                  ticks="outside", ticklen=5, tickwidth=1, tickcolor="#333333",
                  showline=True, linecolor="black", linewidth=2,
                  tickfont=dict(size=13.5, color="#222222", family=FONT))
        layout["xaxis" + xs] = xa
        layout["yaxis" + xs] = ya

        # inner strip with region label
        shapes.append(dict(type="rect", xref="paper", yref="paper",
                           x0=px(pan["s0"]), x1=px(pan["s1"]),
                           y0=py(B - 1), y1=py(T + 1),
                           fillcolor="#E9E7DF", line=dict(width=0), layer="below"))
        annotations.append(dict(xref="paper", yref="paper",
                                x=px((pan["s0"] + pan["s1"]) / 2),
                                y=py(T + ROW / 2 + STRIP_SHIFT),
                                text=region, textangle=90, showarrow=False,
                                xanchor="center", yanchor="middle",
                                font=dict(size=19.5, color="black", family=FONT)))
        # light separator below each panel
        if not last:
            shapes.append(dict(type="line", xref="paper", yref="paper",
                               x0=px(pan["x0"] + 1), x1=px(pan["x1"]),
                               y0=py(B), y1=py(B),
                               line=dict(color="#D4D4D4", width=1.2)))

    # outer strip
    shapes.append(dict(type="rect", xref="paper", yref="paper",
                       x0=px(pan["o0"]), x1=px(pan["o1"]),
                       y0=py(TOP + ROW * NROW), y1=py(TOP),
                       fillcolor="#DAD6C7", line=dict(width=0), layer="below"))
    annotations.append(dict(xref="paper", yref="paper",
                            x=px((pan["o0"] + pan["o1"]) / 2), y=py(570),
                            text="ECOREGION", textangle=90, showarrow=False,
                            xanchor="center", yanchor="middle",
                            font=dict(size=19.5, color="black", family=FONT)))
    # top border
    shapes.append(dict(type="line", xref="paper", yref="paper",
                       x0=px(pan["x0"] - 1), x1=px(pan["x1"]),
                       y0=py(TOP), y1=py(TOP), line=dict(color="black", width=2)))
    # titles
    annotations.append(dict(xref="paper", yref="paper", x=px(pan["tx"]), y=py(21),
                            text=pan["title"], showarrow=False,
                            xanchor="center", yanchor="middle",
                            font=dict(size=24, color="black", family=FONT)))
    annotations.append(dict(xref="paper", yref="paper", x=px(pan["ytx"]), y=py(518),
                            text=pan["ytitle"], textangle=-90, showarrow=False,
                            xanchor="center", yanchor="middle",
                            font=dict(size=21.5, color="black", family=FONT)))
    annotations.append(dict(xref="paper", yref="paper", x=px(pan["xtx"]), y=py(1110),
                            text="Year", showarrow=False,
                            xanchor="center", yanchor="middle",
                            font=dict(size=22, color="black", family=FONT)))

layout["shapes"] = shapes
layout["annotations"] = annotations
fig.update_layout(**layout)
fig.write_html("out.html")
